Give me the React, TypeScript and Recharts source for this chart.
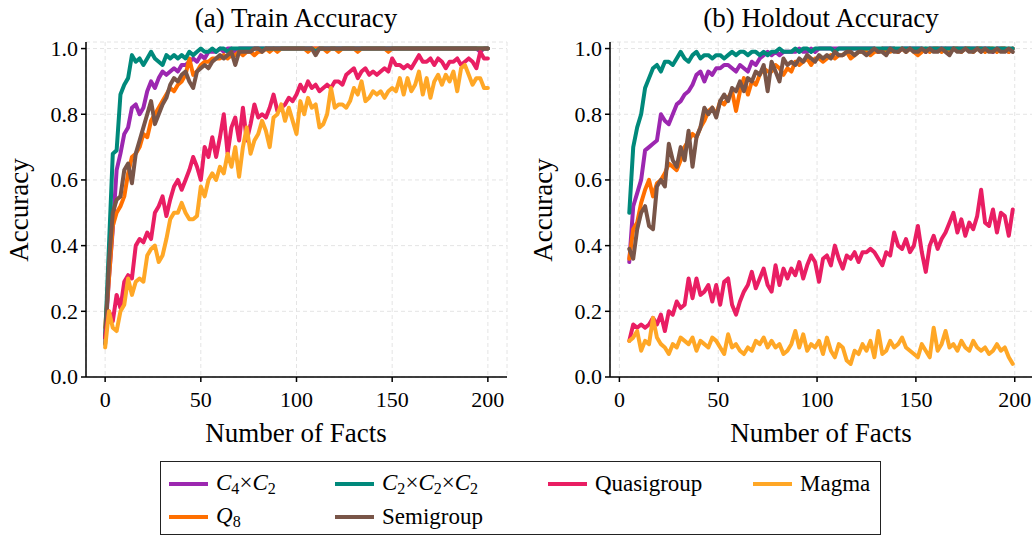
import { LineChart, Line, XAxis, YAxis, CartesianGrid } from 'recharts'

const FONT = 'Liberation Serif, Times New Roman, serif'

// train accuracy, facts 0..200 every 2
const trainC4C2 = [
  0.12, 0.30, 0.45, 0.63, 0.68, 0.74, 0.76, 0.82, 0.83, 0.80,
  0.82, 0.87, 0.90, 0.88, 0.91, 0.93, 0.92, 0.93, 0.94, 0.93,
  0.95, 0.95, 0.96, 0.97, 0.96, 0.98, 0.97, 0.99, 0.99, 0.99,
  1.00, 0.99, 1.00, 1.00, 0.99, 1.00, 1.00, 1.00, 1.00, 1.00,
  1.00, 1.00, 1.00, 1.00, 1.00, 1.00, 1.00, 1.00, 1.00, 1.00,
  1.00, 1.00, 1.00, 1.00, 1.00, 1.00, 1.00, 1.00, 1.00, 1.00,
  1.00, 1.00, 1.00, 1.00, 1.00, 1.00, 1.00, 1.00, 1.00, 1.00,
  1.00, 1.00, 1.00, 1.00, 1.00, 1.00, 1.00, 1.00, 1.00, 1.00,
  1.00, 1.00, 1.00, 1.00, 1.00, 1.00, 1.00, 1.00, 1.00, 1.00,
  1.00, 1.00, 1.00, 1.00, 1.00, 1.00, 1.00, 1.00, 0.99, 1.00,
  1.00,
]
const trainC2C2C2 = [
  0.12, 0.40, 0.68, 0.69, 0.86, 0.89, 0.91, 0.98, 0.96, 0.97,
  0.95, 0.97, 0.99, 0.97, 0.96, 0.95, 0.98, 0.97, 0.98, 0.97,
  0.98, 0.97, 0.99, 0.98, 0.99, 1.00, 0.99, 0.99, 1.00, 0.99,
  1.00, 1.00, 0.99, 1.00, 1.00, 1.00, 1.00, 1.00, 1.00, 1.00,
  1.00, 1.00, 1.00, 1.00, 1.00, 1.00, 1.00, 1.00, 1.00, 1.00,
  1.00, 1.00, 1.00, 1.00, 1.00, 0.99, 1.00, 1.00, 1.00, 1.00,
  1.00, 1.00, 1.00, 1.00, 1.00, 1.00, 1.00, 1.00, 1.00, 1.00,
  1.00, 1.00, 1.00, 1.00, 1.00, 1.00, 1.00, 1.00, 1.00, 1.00,
  1.00, 1.00, 1.00, 1.00, 1.00, 1.00, 1.00, 1.00, 1.00, 1.00,
  1.00, 1.00, 1.00, 1.00, 1.00, 1.00, 1.00, 1.00, 1.00, 1.00,
  1.00,
]
const trainQuasi = [
  0.12, 0.20, 0.17, 0.25, 0.21, 0.29, 0.31, 0.30, 0.40, 0.42,
  0.41, 0.44, 0.42, 0.50, 0.52, 0.55, 0.49, 0.54, 0.58, 0.60,
  0.57, 0.60, 0.63, 0.67, 0.64, 0.60, 0.70, 0.67, 0.73, 0.67,
  0.73, 0.80, 0.68, 0.76, 0.79, 0.72, 0.82, 0.72, 0.77, 0.83,
  0.79, 0.80, 0.79, 0.82, 0.86, 0.81, 0.82, 0.83, 0.85, 0.84,
  0.86, 0.89, 0.87, 0.90, 0.88, 0.89, 0.87, 0.88, 0.89, 0.88,
  0.90, 0.90, 0.89, 0.92, 0.93, 0.94, 0.91, 0.93, 0.94, 0.92,
  0.93, 0.92, 0.93, 0.94, 0.93, 0.97, 0.95, 0.95, 0.94, 0.95,
  0.94, 0.96, 0.98, 0.96, 0.96, 0.97, 0.95, 0.97, 0.96, 0.94,
  0.96, 0.96, 0.97, 0.95, 0.96, 0.97, 0.96, 0.94, 0.99, 0.97,
  0.97,
]
const trainMagma = [
  0.09, 0.20, 0.15, 0.14, 0.20, 0.22, 0.30, 0.25, 0.29, 0.30,
  0.29, 0.37, 0.39, 0.40, 0.35, 0.37, 0.42, 0.48, 0.50, 0.50,
  0.53, 0.50, 0.48, 0.48, 0.49, 0.58, 0.55, 0.60, 0.62, 0.60,
  0.64, 0.62, 0.68, 0.64, 0.70, 0.61, 0.70, 0.76, 0.68, 0.72,
  0.74, 0.78, 0.75, 0.70, 0.79, 0.80, 0.83, 0.78, 0.82, 0.78,
  0.74, 0.84, 0.80, 0.85, 0.82, 0.83, 0.76, 0.77, 0.80, 0.88,
  0.82, 0.83, 0.83, 0.82, 0.84, 0.88, 0.86, 0.90, 0.84, 0.85,
  0.87, 0.86, 0.87, 0.85, 0.87, 0.88, 0.87, 0.91, 0.86, 0.91,
  0.87, 0.89, 0.93, 0.86, 0.91, 0.85, 0.90, 0.92, 0.89, 0.92,
  0.90, 0.93, 0.87, 0.94, 0.95, 0.92, 0.89, 0.91, 0.91, 0.88,
  0.88,
]
const trainQ8 = [
  0.15, 0.30, 0.46, 0.50, 0.52, 0.55, 0.62, 0.67, 0.68, 0.70,
  0.74, 0.73, 0.78, 0.80, 0.82, 0.84, 0.86, 0.88, 0.87, 0.89,
  0.90, 0.92, 0.97, 0.92, 0.93, 0.95, 0.96, 0.96, 0.97, 0.97,
  0.97, 0.98, 0.97, 0.98, 0.98, 0.99, 0.98, 0.99, 0.99, 0.98,
  0.99, 0.99, 1.00, 0.99, 1.00, 0.99, 1.00, 1.00, 1.00, 1.00,
  1.00, 1.00, 1.00, 0.99, 1.00, 1.00, 1.00, 1.00, 0.99, 1.00,
  1.00, 0.99, 1.00, 1.00, 1.00, 1.00, 0.99, 1.00, 1.00, 1.00,
  1.00, 1.00, 1.00, 1.00, 0.99, 1.00, 1.00, 1.00, 1.00, 1.00,
  1.00, 1.00, 1.00, 1.00, 1.00, 1.00, 1.00, 1.00, 1.00, 1.00,
  1.00, 1.00, 1.00, 1.00, 1.00, 1.00, 1.00, 1.00, 1.00, 1.00,
  1.00,
]
const trainSemi = [
  0.10, 0.35, 0.50, 0.54, 0.55, 0.63, 0.65, 0.59, 0.68, 0.72,
  0.76, 0.80, 0.84, 0.77, 0.80, 0.83, 0.85, 0.89, 0.91, 0.90,
  0.92, 0.93, 0.90, 0.88, 0.93, 0.94, 0.95, 0.94, 0.96, 0.97,
  0.98, 0.97, 0.98, 0.99, 0.95, 0.99, 0.99, 0.99, 0.99, 1.00,
  1.00, 0.99, 1.00, 1.00, 1.00, 1.00, 1.00, 1.00, 1.00, 1.00,
  1.00, 1.00, 1.00, 1.00, 1.00, 0.98, 1.00, 1.00, 1.00, 1.00,
  1.00, 1.00, 1.00, 1.00, 1.00, 1.00, 1.00, 1.00, 1.00, 1.00,
  1.00, 1.00, 1.00, 1.00, 1.00, 1.00, 1.00, 1.00, 1.00, 1.00,
  1.00, 1.00, 1.00, 1.00, 1.00, 1.00, 1.00, 1.00, 1.00, 1.00,
  1.00, 1.00, 1.00, 1.00, 1.00, 1.00, 1.00, 1.00, 1.00, 1.00,
  1.00,
]

// holdout accuracy, facts 5..199 every 2
const holdC4C2 = [
  0.35, 0.52, 0.56, 0.60, 0.69, 0.70, 0.71, 0.72, 0.80, 0.78,
  0.77, 0.80, 0.83, 0.84, 0.86, 0.87, 0.89, 0.92, 0.93, 0.90,
  0.93, 0.92, 0.94, 0.94, 0.95, 0.95, 0.94, 0.93, 0.95, 0.94,
  0.93, 0.96, 0.95, 0.97, 0.98, 0.99, 0.98, 0.99, 0.98, 0.99,
  0.99, 0.99, 0.99, 1.00, 0.99, 0.99, 1.00, 0.99, 1.00, 1.00,
  1.00, 1.00, 1.00, 1.00, 1.00, 1.00, 1.00, 1.00, 1.00, 1.00,
  1.00, 1.00, 1.00, 0.99, 1.00, 1.00, 1.00, 1.00, 0.99, 1.00,
  1.00, 1.00, 1.00, 1.00, 1.00, 0.99, 1.00, 1.00, 1.00, 1.00,
  1.00, 1.00, 1.00, 1.00, 1.00, 1.00, 1.00, 1.00, 1.00, 1.00,
  1.00, 1.00, 0.99, 1.00, 1.00, 1.00, 0.99, 1.00,
]
const holdC2C2C2 = [
  0.50, 0.70, 0.76, 0.80, 0.88, 0.91, 0.94, 0.95, 0.93, 0.96,
  0.96, 0.95, 0.97, 0.99, 0.97, 0.96, 0.98, 0.99, 0.97, 0.98,
  0.98, 0.97, 0.98, 0.98, 0.97, 0.98, 0.99, 0.98, 0.99, 0.99,
  0.98, 0.99, 0.99, 0.98, 0.99, 0.98, 0.99, 0.99, 1.00, 0.99,
  0.99, 0.99, 1.00, 0.99, 1.00, 1.00, 0.99, 1.00, 1.00, 1.00,
  1.00, 1.00, 0.99, 1.00, 1.00, 1.00, 1.00, 1.00, 1.00, 1.00,
  1.00, 1.00, 1.00, 1.00, 1.00, 1.00, 1.00, 1.00, 1.00, 1.00,
  1.00, 1.00, 1.00, 1.00, 1.00, 1.00, 1.00, 1.00, 1.00, 1.00,
  1.00, 1.00, 1.00, 1.00, 1.00, 1.00, 1.00, 1.00, 1.00, 1.00,
  1.00, 1.00, 1.00, 1.00, 1.00, 1.00, 1.00, 1.00,
]
const holdQuasi = [
  0.11, 0.16, 0.15, 0.16, 0.15, 0.16, 0.18, 0.16, 0.19, 0.14,
  0.20, 0.19, 0.23, 0.21, 0.22, 0.30, 0.24, 0.30, 0.25, 0.26,
  0.28, 0.23, 0.28, 0.22, 0.29, 0.30, 0.22, 0.19, 0.23, 0.26,
  0.28, 0.32, 0.27, 0.30, 0.33, 0.28, 0.26, 0.34, 0.28, 0.33,
  0.30, 0.33, 0.31, 0.35, 0.30, 0.34, 0.37, 0.35, 0.29, 0.36,
  0.37, 0.34, 0.40, 0.36, 0.33, 0.37, 0.36, 0.38, 0.35, 0.38,
  0.38, 0.39, 0.38, 0.36, 0.34, 0.38, 0.37, 0.44, 0.40, 0.39,
  0.42, 0.38, 0.40, 0.46, 0.38, 0.32, 0.40, 0.43, 0.39, 0.42,
  0.44, 0.47, 0.50, 0.44, 0.48, 0.43, 0.47, 0.45, 0.49, 0.57,
  0.47, 0.46, 0.51, 0.44, 0.50, 0.49, 0.43, 0.51,
]
const holdMagma = [
  0.11, 0.12, 0.14, 0.08, 0.11, 0.10, 0.18, 0.12, 0.10, 0.09,
  0.07, 0.10, 0.09, 0.12, 0.11, 0.10, 0.12, 0.08, 0.11, 0.10,
  0.09, 0.12, 0.11, 0.09, 0.07, 0.13, 0.09, 0.10, 0.08, 0.07,
  0.09, 0.08, 0.11, 0.10, 0.12, 0.09, 0.11, 0.09, 0.10, 0.07,
  0.08, 0.10, 0.14, 0.09, 0.13, 0.08, 0.10, 0.09, 0.11, 0.07,
  0.12, 0.08, 0.06, 0.10, 0.09, 0.05, 0.04, 0.08, 0.07, 0.10,
  0.08, 0.11, 0.06, 0.14, 0.07, 0.08, 0.11, 0.09, 0.10, 0.12,
  0.09, 0.08, 0.07, 0.06, 0.10, 0.08, 0.06, 0.15, 0.08, 0.10,
  0.14, 0.09, 0.10, 0.08, 0.11, 0.09, 0.08, 0.11, 0.09, 0.08,
  0.09, 0.07, 0.08, 0.10, 0.08, 0.09, 0.06, 0.04,
]
const holdQ8 = [
  0.36, 0.45, 0.47, 0.53, 0.57, 0.60, 0.55, 0.59, 0.60, 0.62,
  0.65, 0.64, 0.63, 0.66, 0.70, 0.72, 0.74, 0.73, 0.76, 0.78,
  0.81, 0.82, 0.80, 0.84, 0.83, 0.85, 0.87, 0.81, 0.87, 0.91,
  0.86, 0.90, 0.89, 0.92, 0.94, 0.93, 0.93, 0.95, 0.94, 0.92,
  0.94, 0.93, 0.96, 0.95, 0.96, 0.97, 0.95, 0.97, 0.97, 0.96,
  0.97, 0.98, 0.97, 0.98, 0.98, 0.99, 0.97, 0.98, 0.99, 0.99,
  0.99, 0.98, 0.99, 0.99, 1.00, 0.99, 0.99, 1.00, 0.99, 1.00,
  0.99, 1.00, 0.99, 0.98, 0.99, 1.00, 0.99, 1.00, 1.00, 0.99,
  1.00, 0.99, 1.00, 1.00, 0.99, 1.00, 1.00, 0.99, 1.00, 1.00,
  0.99, 1.00, 1.00, 0.99, 1.00, 1.00, 0.99, 1.00,
]
const holdSemi = [
  0.39, 0.36, 0.45, 0.50, 0.52, 0.46, 0.45, 0.58, 0.60, 0.58,
  0.71, 0.66, 0.64, 0.70, 0.66, 0.75, 0.64, 0.73, 0.76, 0.82,
  0.80, 0.82, 0.79, 0.84, 0.86, 0.84, 0.88, 0.87, 0.90, 0.87,
  0.91, 0.90, 0.93, 0.92, 0.95, 0.87, 0.96, 0.93, 0.90, 0.97,
  0.95, 0.96, 0.95, 0.97, 0.96, 0.98, 0.97, 0.96, 0.98, 0.97,
  0.98, 0.97, 0.99, 0.98, 0.98, 0.99, 0.99, 0.98, 0.99, 0.99,
  0.98, 0.99, 1.00, 0.99, 0.99, 0.98, 1.00, 0.99, 0.99, 1.00,
  0.99, 1.00, 0.99, 0.99, 1.00, 0.99, 1.00, 0.99, 0.99, 1.00,
  0.99, 0.98, 1.00, 0.99, 0.99, 1.00, 0.99, 0.99, 1.00, 0.99,
  1.00, 0.99, 0.99, 1.00, 0.99, 0.99, 1.00, 0.99,
]

const xTicks = [0, 50, 100, 150, 200]
const yTicks = [0, 0.2, 0.4, 0.6, 0.8, 1.0]

// draw order (matplotlib plotting order)
const SERIES = [
  { key: 'c4c2', color: '#9C27B0' },
  { key: 'q8', color: '#FF6F00' },
  { key: 'c2c2c2', color: '#00897B' },
  { key: 'semi', color: '#795548' },
  { key: 'quasi', color: '#E91E63' },
  { key: 'magma', color: '#FFA726' },
]

const trainRows = trainC4C2.map((v, i) => ({
  x: i * 2,
  c4c2: v,
  c2c2c2: trainC2C2C2[i],
  quasi: trainQuasi[i],
  magma: trainMagma[i],
  q8: trainQ8[i],
  semi: trainSemi[i],
}))

const holdRows = holdC4C2.map((v, i) => ({
  x: 5 + i * 2,
  c4c2: v,
  c2c2c2: holdC2C2C2[i],
  quasi: holdQuasi[i],
  magma: holdMagma[i],
  q8: holdQ8[i],
  semi: holdSemi[i],
}))

const axisStroke = { stroke: '#000', strokeWidth: 1.5 }

function XTick(props: any) {
  const { x, y, payload } = props
  return (
    <text x={x} y={y} dy='0.78em' textAnchor='middle' fontFamily={FONT} fontSize={22} fill='#000'>
      {payload.value}
    </text>
  )
}

function YTick(props: any) {
  const { x, y, payload } = props
  return (
    <text x={x} y={y} dy='0.34em' textAnchor='end' fontFamily={FONT} fontSize={22} fill='#000'>
      {Number(payload.value).toFixed(1)}
    </text>
  )
}

interface PanelProps {
  rows: Record<string, number>[]
  xDomain: [number, number]
  left: number
  yAxisWidth: number
  marginRight: number
}

function Panel({ rows, xDomain, left, yAxisWidth, marginRight }: PanelProps) {
  return (
    <div style={{ position: 'absolute', left, top: 0 }}>
      <LineChart
        width={520}
        height={460}
        data={rows}
        margin={{ top: 42, right: marginRight, bottom: 53, left: 0 }}
      >
        <CartesianGrid stroke='#e4e4e4' strokeDasharray='4 3' strokeWidth={1} />
        <XAxis
          dataKey='x'
          type='number'
          domain={xDomain}
          ticks={xTicks}
          allowDataOverflow
          height={30}
          tick={<XTick />}
          tickSize={5}
          tickMargin={8}
          axisLine={axisStroke}
          tickLine={axisStroke}
        />
        <YAxis
          type='number'
          domain={[0, 1.02]}
          ticks={yTicks}
          allowDataOverflow
          width={yAxisWidth}
          tick={<YTick />}
          tickSize={5}
          tickMargin={3}
          axisLine={axisStroke}
          tickLine={axisStroke}
        />
        {SERIES.map(s => (
          <Line
            key={s.key}
            dataKey={s.key}
            type='linear'
            stroke={s.color}
            strokeWidth={4}
            strokeLinejoin='round'
            strokeLinecap='round'
            dot={false}
            isAnimationActive={false}
          />
        ))}
      </LineChart>
    </div>
  )
}

const subStyle = { fontSize: '0.7em', verticalAlign: '-0.25em' }

const C = ({ sub }: { sub: string }) => (
  <span>
    <i>C</i>
    <sub style={subStyle}>{sub}</sub>
  </span>
)

const legendItems = [
  { color: '#9C27B0', label: <span><C sub='4' />×<C sub='2' /></span>, col: 0, row: 0 },
  { color: '#00897B', label: <span><C sub='2' />×<C sub='2' />×<C sub='2' /></span>, col: 1, row: 0 },
  { color: '#E91E63', label: <span>Quasigroup</span>, col: 2, row: 0 },
  { color: '#FFA726', label: <span>Magma</span>, col: 3, row: 0 },
  { color: '#FF6F00', label: <span><i>Q</i><sub style={subStyle}>8</sub></span>, col: 0, row: 1 },
  { color: '#795548', label: <span>Semigroup</span>, col: 1, row: 1 },
]

const colX = [8, 174, 387, 592]

function Legend() {
  return (
    <div
      style={{
        position: 'absolute',
        left: 160,
        top: 461,
        width: 721,
        height: 74,
        border: '1.5px solid #222',
        boxSizing: 'border-box',
        background: '#fff',
        fontFamily: FONT,
        fontSize: 23,
        color: '#000',
      }}
    >
      {legendItems.map((it, i) => (
        <div
          key={i}
          style={{
            position: 'absolute',
            left: colX[it.col],
            top: it.row === 0 ? 5 : 38,
            height: 34,
            display: 'flex',
            alignItems: 'center',
            whiteSpace: 'nowrap',
            fontFamily: FONT,
          }}
        >
          <span style={{ display: 'inline-block', width: 39, height: 4, background: it.color, marginRight: 8 }} />
          {it.label}
        </div>
      ))}
    </div>
  )
}

export default function App() {
  return (
    <div
      style={{
        position: 'absolute',
        left: 0,
        top: 0,
        width: 1032,
        height: 536,
        overflow: 'hidden',
        background: '#fff',
        fontFamily: FONT,
      }}
    >
      <Panel rows={trainRows} xDomain={[-10, 210]} left={0} yAxisWidth={86} marginRight={13} />
      <Panel rows={holdRows} xDomain={[-4.75, 209.75]} left={520} yAxisWidth={90} marginRight={6} />
      <svg
        width={1032}
        height={460}
        style={{ position: 'absolute', left: 0, top: 0, pointerEvents: 'none' }}
        fontFamily={FONT}
      >
        <text x={296} y={18} fontSize={27} textAnchor='middle' dominantBaseline='central'>(a) Train Accuracy</text>
        <text x={821} y={18} fontSize={27} textAnchor='middle' dominantBaseline='central'>(b) Holdout Accuracy</text>
        <text x={296} y={433} fontSize={27} textAnchor='middle' dominantBaseline='central'>Number of Facts</text>
        <text x={821} y={433} fontSize={27} textAnchor='middle' dominantBaseline='central'>Number of Facts</text>
        <text x={19} y={210} fontSize={27} textAnchor='middle' dominantBaseline='central' transform='rotate(-90 19 210)'>Accuracy</text>
        <text x={543} y={210} fontSize={27} textAnchor='middle' dominantBaseline='central' transform='rotate(-90 543 210)'>Accuracy</text>
      </svg>
      <Legend />
    </div>
  )
}
